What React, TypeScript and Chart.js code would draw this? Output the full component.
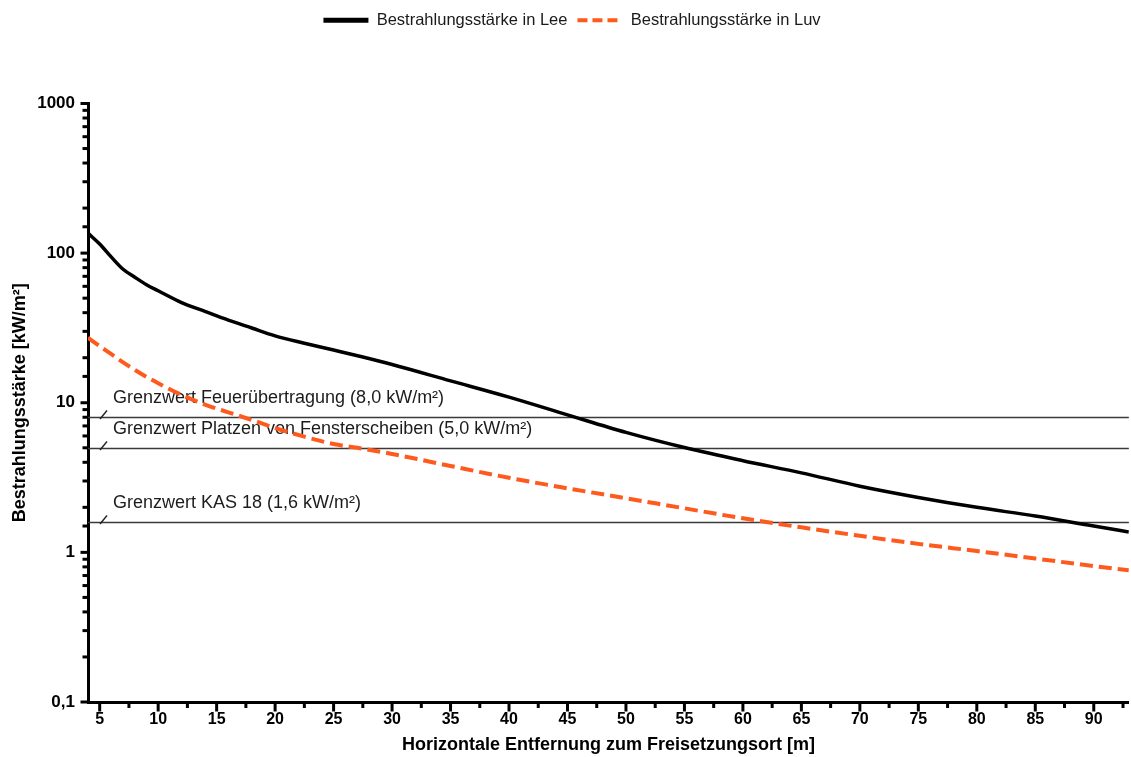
import React, { useEffect, useRef } from 'react';
import { Chart, registerables } from 'chart.js';

Chart.register(...registerables);

// ---- data ----
const distances = [4, 5, 6, 7, 8, 9, 10, 12, 14, 16, 18, 20, 22.5, 25, 27.5, 30, 35, 40, 45, 50, 55, 60, 65, 70, 75, 80, 85, 90, 93];
const leeValues = [136, 115, 94, 78, 69, 61.5, 56, 46.7, 40.8, 35.7, 31.6, 28, 25, 22.5, 20.2, 18.0, 14.0, 10.9, 8.3, 6.34, 5.02, 4.1, 3.4, 2.77, 2.33, 2.0, 1.75, 1.5, 1.37];
const luvValues = [27.2, 23.9, 21.1, 18.6, 16.6, 14.9, 13.5, 11.3, 9.72, 8.63, 7.68, 6.78, 5.94, 5.3, 4.93, 4.55, 3.78, 3.15, 2.68, 2.3, 1.97, 1.69, 1.47, 1.29, 1.14, 1.02, 0.91, 0.81, 0.76];

const seriesNames = ['Bestrahlungsstärke in Lee', 'Bestrahlungsstärke in Luv'];

const thresholdValues = [8, 5, 1.6];
const thresholdLabels = [
  'Grenzwert Feuerübertragung (8,0 kW/m²)',
  'Grenzwert Platzen von Fensterscheiben (5,0 kW/m²)',
  'Grenzwert KAS 18 (1,6 kW/m²)',
];

const yMajorTicks = [0.1, 1, 10, 100, 1000];
const yMajorLabels = ['0,1', '1', '10', '100', '1000'];
const xLabelStep = 5;
const xTickStep = 2.5;

const xTitle = 'Horizontale Entfernung zum Freisetzungsort [m]';
const yTitle = 'Bestrahlungsstärke [kW/m²]';

const FONT = "'Liberation Sans', Arial, Helvetica, sans-serif";
const legendLineWidths = [5, 4];
const legendDashes = [[], [10, 5]];

const isMajorLog = (v: number) => Math.abs(Math.log10(v) - Math.round(Math.log10(v))) < 1e-6;

const thresholdPlugin = {
  id: 'thresholds',
  beforeDatasetsDraw(chart: any) {
    const { ctx, chartArea, scales } = chart;
    const y = scales.y;
    ctx.save();
    thresholdValues.forEach((v, i) => {
      const py = Math.round(y.getPixelForValue(v)) + 0.5;
      ctx.strokeStyle = '#3a3a3a';
      ctx.lineWidth = 1.5;
      ctx.setLineDash([]);
      ctx.beginPath();
      ctx.moveTo(chartArea.left, py);
      ctx.lineTo(chartArea.right, py);
      ctx.stroke();
      ctx.strokeStyle = '#222';
      ctx.lineWidth = 1.4;
      ctx.beginPath();
      ctx.moveTo(chartArea.left + 12, py + 1.5);
      ctx.lineTo(chartArea.left + 19, py - 7);
      ctx.stroke();
      ctx.fillStyle = '#1c1c1c';
      ctx.font = `18px ${FONT}`;
      ctx.textBaseline = 'alphabetic';
      ctx.textAlign = 'left';
      ctx.fillText(thresholdLabels[i], chartArea.left + 25, py - 15);
    });
    ctx.restore();
  },
};

const tickMarksPlugin = {
  id: 'tickMarks',
  afterDraw(chart: any) {
    const { ctx, chartArea, scales } = chart;
    ctx.save();
    ctx.strokeStyle = '#000';
    ctx.lineWidth = 3;
    ctx.setLineDash([]);
    scales.x.ticks.forEach((t: any) => {
      const px = scales.x.getPixelForValue(t.value);
      const len = Math.abs(t.value % xLabelStep) < 1e-6 ? 8 : 4.5;
      ctx.beginPath();
      ctx.moveTo(px, chartArea.bottom);
      ctx.lineTo(px, chartArea.bottom + 1.5 + len);
      ctx.stroke();
    });
    scales.y.ticks.forEach((t: any) => {
      const py = scales.y.getPixelForValue(t.value);
      const len = isMajorLog(t.value) ? 6 : 4;
      ctx.beginPath();
      ctx.moveTo(chartArea.left - 1.5 - len, py);
      ctx.lineTo(chartArea.left, py);
      ctx.stroke();
    });
    ctx.restore();
  },
};

export default function App() {
  const canvasRef = useRef<HTMLCanvasElement | null>(null);

  useEffect(() => {
    if (!canvasRef.current) return;
    Chart.defaults.font.family = FONT;
    Chart.defaults.color = '#000';

    const chart = new Chart(canvasRef.current, {
      type: 'line',
      data: {
        datasets: [
          {
            label: seriesNames[0],
            data: distances.map((d, i) => ({ x: d, y: leeValues[i] })),
            borderColor: '#000000',
            backgroundColor: '#000000',
            borderWidth: 3.5,
            pointRadius: 0,
            cubicInterpolationMode: 'monotone',
            fill: false,
          },
          {
            label: seriesNames[1],
            data: distances.map((d, i) => ({ x: d, y: luvValues[i] })),
            borderColor: '#ff5a1e',
            backgroundColor: '#ff5a1e',
            borderWidth: 4,
            borderDash: [13, 6],
            pointRadius: 0,
            cubicInterpolationMode: 'monotone',
            fill: false,
          },
        ],
      },
      options: {
        animation: false,
        responsive: true,
        maintainAspectRatio: false,
        layout: { padding: { top: 2, left: 13, right: 0, bottom: 0 } },
        plugins: {
          legend: {
            display: true,
            position: 'top',
            labels: {
              usePointStyle: true,
              pointStyle: 'line',
              pointStyleWidth: 45,
              padding: 10,
              color: '#1a1a1a',
              font: { size: 16.5, family: FONT },
              generateLabels: (ch: any) =>
                ch.data.datasets.map((ds: any, i: number) => ({
                  text: ds.label,
                  fillStyle: ds.borderColor,
                  strokeStyle: ds.borderColor,
                  lineWidth: legendLineWidths[i],
                  lineDash: legendDashes[i],
                  lineCap: 'butt',
                  pointStyle: 'line',
                  hidden: false,
                  datasetIndex: i,
                  fontColor: '#1a1a1a',
                })),
            },
          },
          subtitle: {
            display: true,
            text: '',
            weight: 500,
            font: { size: 10, lineHeight: 1 },
            padding: { top: 55, bottom: 0 },
          },
          tooltip: { enabled: false },
        },
        scales: {
          x: {
            type: 'linear',
            min: 4,
            max: 93,
            afterFit: (s: any) => {
              s.height = 55;
            },
            grid: { display: true, drawOnChartArea: false, drawTicks: false },
            border: { display: true, color: '#000', width: 3 },
            ticks: {
              stepSize: xTickStep,
              includeBounds: false,
              autoSkip: false,
              maxRotation: 0,
              minRotation: 0,
              padding: 8,
              color: '#000',
              font: { size: 16, weight: 'bold', family: FONT },
              callback: (v: any) => (Math.abs(Number(v) % xLabelStep) < 1e-6 ? String(v) : ''),
            },
            title: {
              display: true,
              text: xTitle,
              color: '#000',
              font: { size: 18, weight: 'bold', lineHeight: 1, family: FONT },
              padding: { top: 0, bottom: 3 },
            },
          },
          y: {
            type: 'logarithmic',
            min: 0.1,
            max: 1000,
            afterFit: (s: any) => {
              s.width = 75;
            },
            grid: { display: true, drawOnChartArea: false, drawTicks: false },
            border: { display: true, color: '#000', width: 3 },
            ticks: {
              autoSkip: false,
              padding: 13,
              color: '#000',
              font: { size: 17, weight: 'bold', family: FONT },
              callback: (v: any) => {
                const n = Number(v);
                const idx = yMajorTicks.findIndex((m) => Math.abs(m - n) / m < 1e-6);
                return idx >= 0 ? yMajorLabels[idx] : '';
              },
            },
            title: {
              display: true,
              text: yTitle,
              color: '#000',
              font: { size: 18, weight: 'bold', lineHeight: 1, family: FONT },
              padding: { top: -1.5, bottom: 0 },
            },
          },
        },
      } as any,
      plugins: [thresholdPlugin, tickMarksPlugin],
    });

    return () => {
      chart.destroy();
    };
  }, []);

  return (
    <div style={{ position: 'absolute', left: 0, top: 0, width: 1131, height: 757, background: '#fff' }}>
      <canvas ref={canvasRef} />
    </div>
  );
}
